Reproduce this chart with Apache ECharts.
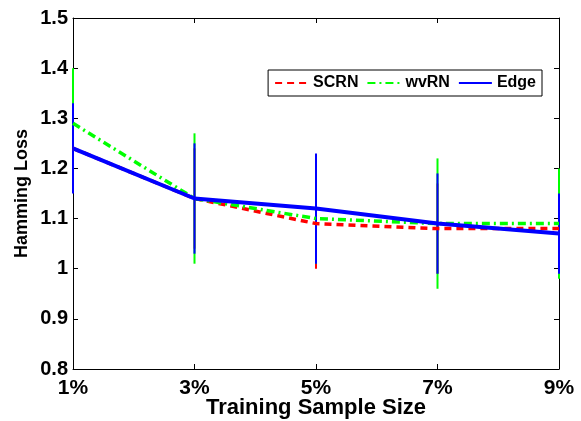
<!DOCTYPE html>
<html>
<head>
<meta charset="utf-8">
<script src="https://cdn.jsdelivr.net/npm/echarts@6/dist/echarts.min.js"></script>
<style>html,body{margin:0;padding:0;background:#fff}#c{width:581px;height:421px}</style>
</head>
<body>
<div id="c"></div>
<script>
var categories = ['1%', '3%', '5%', '7%', '9%'];
var scrn = [1.24, 1.14, 1.09, 1.08, 1.08];
var scrnLow = [1.16, 1.04, 1.00, 0.99, 1.01];
var scrnHigh = [1.32, 1.24, 1.18, 1.17, 1.15];
var wvrn = [1.29, 1.14, 1.10, 1.09, 1.09];
var wvrnLow = [1.18, 1.01, 1.01, 0.96, 0.98];
var wvrnHigh = [1.40, 1.27, 1.19, 1.22, 1.20];
var edge = [1.24, 1.14, 1.12, 1.09, 1.07];
var edgeLow = [1.15, 1.03, 1.01, 0.99, 0.99];
var edgeHigh = [1.33, 1.25, 1.23, 1.19, 1.15];
var yTicks = { min: 0.8, max: 1.5, interval: 0.1 };

var FONT = "'Liberation Sans', Arial, Helvetica, sans-serif";

function errData(low, high) {
  return low.map(function (l, i) { return [i, l, high[i]]; });
}
function errSeries(name, low, high, color) {
  return {
    type: 'custom',
    name: name,
    data: errData(low, high),
    encode: { x: 0, y: [1, 2] },
    renderItem: function (params, api) {
      var p1 = api.coord([api.value(0), api.value(1)]);
      var p2 = api.coord([api.value(0), api.value(2)]);
      return {
        type: 'line',
        shape: { x1: p1[0], y1: p1[1], x2: p2[0], y2: p2[1] },
        style: { stroke: color, lineWidth: 2 }
      };
    },
    silent: true
  };
}

var chart = echarts.init(document.getElementById('c'), null, { renderer: 'canvas' });
chart.setOption({
  animation: false,
  backgroundColor: '#fff',
  textStyle: { fontFamily: FONT },
  grid: { left: 73, right: 22, top: 18, bottom: 52, containLabel: false, outerBoundsMode: 'none' },
  legend: {
    data: ['SCRN', 'wvRN', 'Edge'],
    right: 39, top: 70,
    itemWidth: 33, itemHeight: 12, itemGap: 8,
    padding: [5, 6, 5, 6],
    borderColor: '#000', borderWidth: 1, backgroundColor: '#fff',
    itemStyle: { opacity: 0, color: 'rgba(0,0,0,0)', borderColor: 'rgba(0,0,0,0)', borderWidth: 0 },
    textStyle: { fontFamily: FONT, fontWeight: 'bold', fontSize: 16, color: '#000' }
  },
  xAxis: [{
    type: 'category', data: categories, boundaryGap: false,
    name: 'Training Sample Size', nameLocation: 'middle', nameGap: 28, nameMoveOverlap: false,
    nameTextStyle: { fontFamily: FONT, fontWeight: 'bold', fontSize: 22, color: '#000' },
    axisLine: { lineStyle: { color: '#000', width: 1 } },
    axisTick: { inside: true, length: 5, alignWithLabel: true, lineStyle: { color: '#000' } },
    axisLabel: { fontFamily: FONT, fontWeight: 'bold', fontSize: 21, color: '#000', margin: 9, interval: 0 },
    splitLine: { show: false }
  }, {
    type: 'category', data: categories, boundaryGap: false, position: 'top',
    axisLine: { lineStyle: { color: '#000', width: 1 } },
    axisTick: { inside: true, length: 5, lineStyle: { color: '#000' } },
    axisLabel: { show: false }, splitLine: { show: false }
  }],
  yAxis: [{
    type: 'value', min: yTicks.min, max: yTicks.max, interval: yTicks.interval,
    name: 'Hamming Loss', nameLocation: 'middle', nameGap: 42, nameMoveOverlap: false,
    nameTextStyle: { fontFamily: FONT, fontWeight: 'bold', fontSize: 18, color: '#000' },
    axisLine: { show: true, lineStyle: { color: '#000', width: 1 } },
    axisTick: { show: true, inside: true, length: 5, lineStyle: { color: '#000' } },
    axisLabel: { fontFamily: FONT, fontWeight: 'bold', fontSize: 20, color: '#000', margin: 5 },
    splitLine: { show: false }
  }, {
    type: 'value', min: yTicks.min, max: yTicks.max, interval: yTicks.interval, position: 'right',
    axisLine: { show: true, lineStyle: { color: '#000', width: 1 } },
    axisTick: { show: true, inside: true, length: 5, lineStyle: { color: '#000' } },
    axisLabel: { show: false }, splitLine: { show: false }
  }],
  series: [
    errSeries('SCRN err', scrnLow, scrnHigh, '#ff0000'),
    { type: 'line', name: 'SCRN', data: scrn, symbol: 'none', color: '#ff0000',
      lineStyle: { color: '#ff0000', width: 3.5, type: [7, 5] } },
    errSeries('wvRN err', wvrnLow, wvrnHigh, '#00ff00'),
    { type: 'line', name: 'wvRN', data: wvrn, symbol: 'none', color: '#00ff00',
      lineStyle: { color: '#00ff00', width: 3.5, type: [8, 4, 2, 4] } },
    errSeries('Edge err', edgeLow, edgeHigh, '#0000ff'),
    { type: 'line', name: 'Edge', data: edge, symbol: 'none', color: '#0000ff',
      lineStyle: { color: '#0000ff', width: 4 } }
  ]
});
</script>
</body>
</html>
